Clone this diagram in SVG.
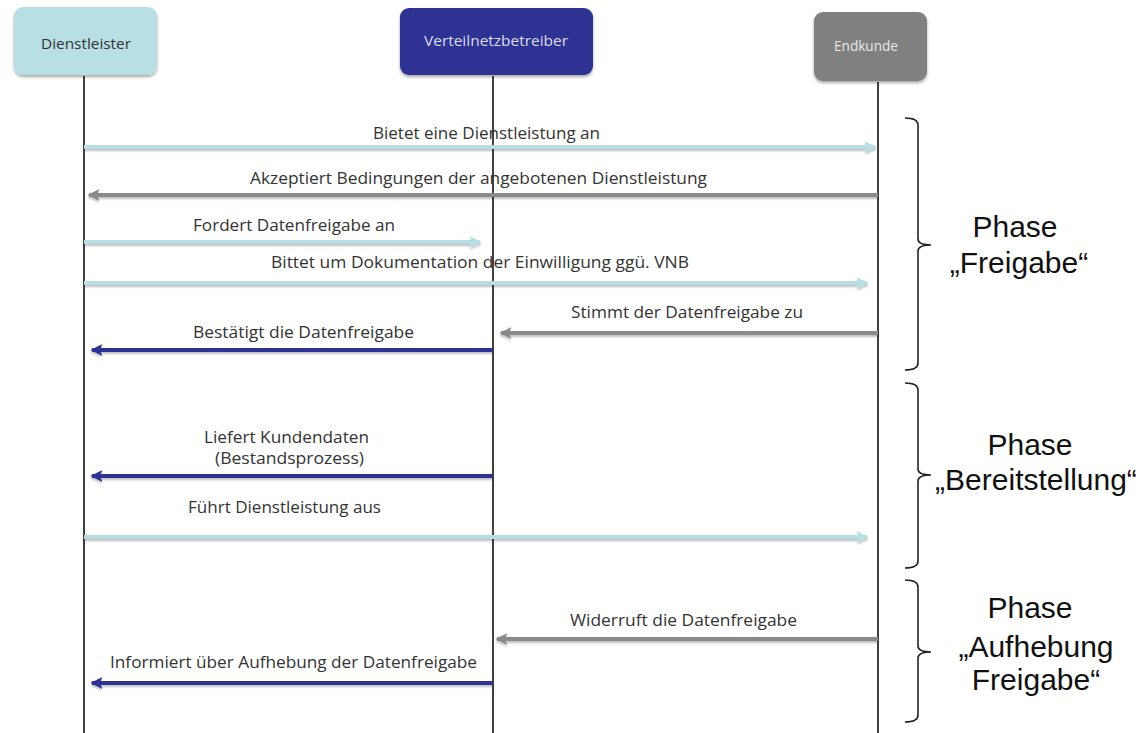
<svg xmlns="http://www.w3.org/2000/svg" width="1142" height="733" viewBox="0 0 1142 733">
<defs>
<style>
.hdr{font-family:"Open Sans","Liberation Sans",sans-serif;font-size:14px;text-anchor:middle}
.msg{font-family:"Open Sans","Liberation Sans",sans-serif;font-size:16px;fill:#333;text-anchor:middle}
.phase{font-family:"Liberation Sans",Arial,sans-serif;font-size:30px;fill:#111;text-anchor:middle}
.life{stroke:#111;stroke-width:1.6;fill:none}
.arr{stroke-width:4;fill:none;filter:url(#ls)}
.lb{stroke:#b6dfe4}
.gr{stroke:#8a8a8a}
.db{stroke:#2e3192}
.brace{stroke:#222;stroke-width:1.6;fill:none}
</style>
<filter id="sh" x="-10%" y="-10%" width="120%" height="130%">
<feDropShadow dx="0" dy="2" stdDeviation="1.5" flood-color="#000" flood-opacity="0.35"/>
</filter>
<filter id="ls" filterUnits="userSpaceOnUse" x="0" y="0" width="1142" height="733">
<feDropShadow dx="0" dy="2" stdDeviation="1" flood-color="#000" flood-opacity="0.25"/>
</filter>
<marker id="mlb" markerWidth="3" markerHeight="3" refX="2.6" refY="1.5" orient="auto" markerUnits="strokeWidth"><path d="M0,0 L3,1.5 L0,3 L0.6,1.5 Z" fill="#b6dfe4"/></marker>
<marker id="mgr" markerWidth="3" markerHeight="3" refX="2.6" refY="1.5" orient="auto" markerUnits="strokeWidth"><path d="M0,0 L3,1.5 L0,3 L0.6,1.5 Z" fill="#8a8a8a"/></marker>
<marker id="mdb" markerWidth="3" markerHeight="3" refX="2.6" refY="1.5" orient="auto" markerUnits="strokeWidth"><path d="M0,0 L3,1.5 L0,3 L0.6,1.5 Z" fill="#2e3192"/></marker>
</defs>
<rect width="1142" height="733" fill="#fff"/>

<g id="lifelines">
<line class="life" x1="84" y1="76" x2="84" y2="733"/>
<line class="life" x1="493" y1="76" x2="493" y2="733"/>
<line class="life" x1="878" y1="82" x2="878" y2="733"/>
</g>

<g id="node-dienstleister">
<rect x="14" y="7" width="143" height="68" rx="9" fill="#b7dfe4" filter="url(#sh)"/>
<text class="hdr" x="86" y="49" fill="#333" textLength="90" lengthAdjust="spacingAndGlyphs">Dienstleister</text>
</g>
<g id="node-vnb">
<rect x="400" y="8" width="193" height="67" rx="9" fill="#2e3192" filter="url(#sh)"/>
<text class="hdr" x="496" y="46" fill="#dcdcf0" textLength="144" lengthAdjust="spacingAndGlyphs">Verteilnetzbetreiber</text>
</g>
<g id="node-endkunde">
<rect x="814" y="12" width="113" height="69" rx="9" fill="#808080" filter="url(#sh)"/>
<text class="hdr" x="866" y="51" fill="#e8e8e8" textLength="64" lengthAdjust="spacingAndGlyphs">Endkunde</text>
</g>

<g id="connectors">
<line class="arr lb" x1="84" y1="147" x2="875" y2="147" marker-end="url(#mlb)"/>
<line class="arr gr" x1="878" y1="195" x2="89" y2="195" marker-end="url(#mgr)"/>
<line class="arr lb" x1="84" y1="242" x2="480" y2="242" marker-end="url(#mlb)"/>
<line class="arr lb" x1="84" y1="283" x2="867" y2="283" marker-end="url(#mlb)"/>
<line class="arr gr" x1="878" y1="333" x2="501" y2="333" marker-end="url(#mgr)"/>
<line class="arr db" x1="493" y1="350" x2="92" y2="350" marker-end="url(#mdb)"/>
<line class="arr db" x1="493" y1="476" x2="92" y2="476" marker-end="url(#mdb)"/>
<line class="arr lb" x1="84" y1="537" x2="867" y2="537" marker-end="url(#mlb)"/>
<line class="arr gr" x1="878" y1="639" x2="497" y2="639" marker-end="url(#mgr)"/>
<line class="arr db" x1="493" y1="683" x2="92" y2="683" marker-end="url(#mdb)"/>
</g>

<g id="labels">
<text class="msg" x="486.5" y="139" textLength="227" lengthAdjust="spacingAndGlyphs">Bietet eine Dienstleistung an</text>
<text class="msg" x="478.5" y="184" textLength="457" lengthAdjust="spacingAndGlyphs">Akzeptiert Bedingungen der angebotenen Dienstleistung</text>
<text class="msg" x="294" y="231" textLength="202" lengthAdjust="spacingAndGlyphs">Fordert Datenfreigabe an</text>
<text class="msg" x="480" y="268" textLength="418" lengthAdjust="spacingAndGlyphs">Bittet um Dokumentation der Einwilligung ggü. VNB</text>
<text class="msg" x="687" y="318" textLength="232" lengthAdjust="spacingAndGlyphs">Stimmt der Datenfreigabe zu</text>
<text class="msg" x="303.5" y="338" textLength="221" lengthAdjust="spacingAndGlyphs">Bestätigt die Datenfreigabe</text>
<text class="msg" x="286.5" y="443" textLength="165" lengthAdjust="spacingAndGlyphs">Liefert Kundendaten</text>
<text class="msg" x="289.5" y="464" textLength="149" lengthAdjust="spacingAndGlyphs">(Bestandsprozess)</text>
<text class="msg" x="284.5" y="513" textLength="193" lengthAdjust="spacingAndGlyphs">Führt Dienstleistung aus</text>
<text class="msg" x="683.5" y="626" textLength="227" lengthAdjust="spacingAndGlyphs">Widerruft die Datenfreigabe</text>
<text class="msg" x="293.5" y="668" textLength="367" lengthAdjust="spacingAndGlyphs">Informiert über Aufhebung der Datenfreigabe</text>
</g>

<g id="phase-freigabe">
<path class="brace" d="M905,118 Q918,118 918,125 V239 Q918,245 931,245 Q918,245 918,251 V363 Q918,370 905,370"/>
<text class="phase" x="1015" y="237">Phase</text>
<text class="phase" x="1019" y="273">„Freigabe“</text>
</g>
<g id="phase-bereitstellung">
<path class="brace" d="M905,383 Q918,383 918,390 V469 Q918,475 931,475 Q918,475 918,481 V561 Q918,568 905,568"/>
<text class="phase" x="1030" y="455">Phase</text>
<text class="phase" x="1036" y="490">„Bereitstellung“</text>
</g>
<g id="phase-aufhebung">
<path class="brace" d="M905,580 Q918,580 918,587 V646 Q918,652 931,652 Q918,652 918,658 V715 Q918,722 905,722"/>
<text class="phase" x="1030" y="618">Phase</text>
<text class="phase" x="1036" y="657">„Aufhebung</text>
<text class="phase" x="1036" y="690">Freigabe“</text>
</g>
</svg>
